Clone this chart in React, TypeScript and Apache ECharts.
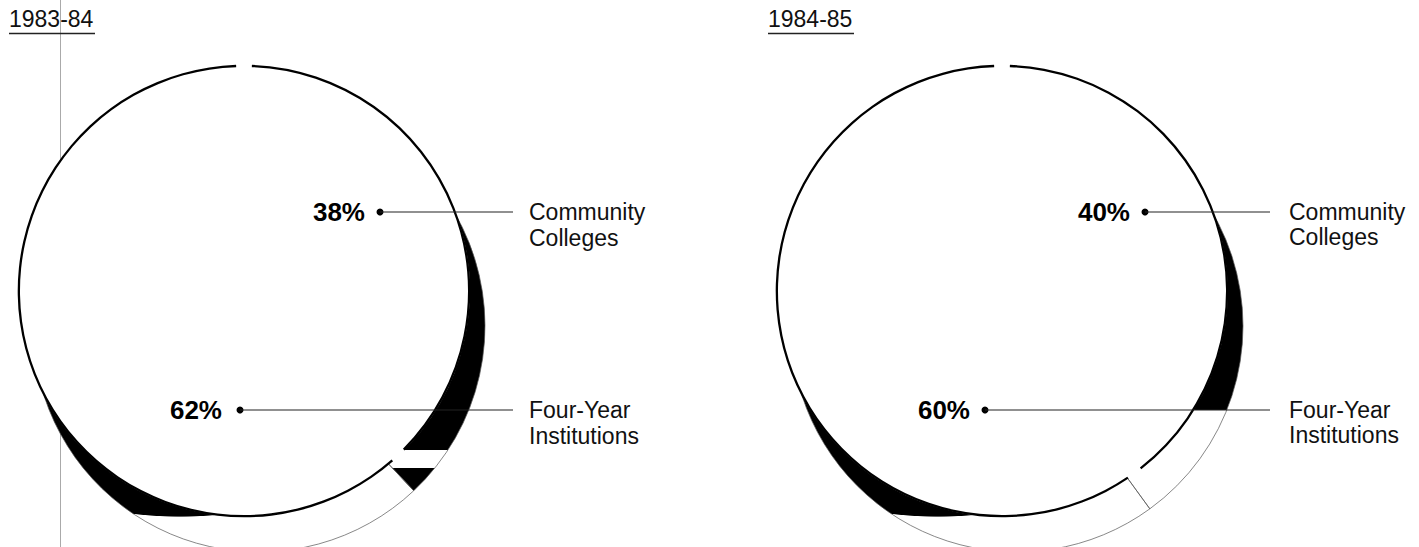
import React, { useEffect, useRef } from "react";
import * as echarts from "echarts";

const years = ["1983-84", "1984-85"];
const categories = ["Community Colleges", "Four-Year Institutions"];
const labelLines = [["Community", "Colleges"], ["Four-Year", "Institutions"]];
const share1983 = [38, 62];
const share1984 = [40, 60];

const W = 1419;
const H = 547;
const CLEAR = "rgba(0,0,0,0)";

function bandGradient(bands: [number, number][]) {
  // black only inside the given pixel y ranges
  const stops: { offset: number; color: string }[] = [];
  let last = 0;
  bands.forEach(([a, b]) => {
    stops.push({ offset: last / H, color: CLEAR });
    stops.push({ offset: a / H, color: CLEAR });
    stops.push({ offset: a / H, color: "#000" });
    stops.push({ offset: b / H, color: "#000" });
    stops.push({ offset: b / H, color: CLEAR });
    last = b;
  });
  stops.push({ offset: 1, color: CLEAR });
  return new echarts.graphic.LinearGradient(0, 0, 0, H, stops, true as any);
}

function cornerGradient(x0: number) {
  // black inside a large disc, so the shading stops at the bottom like the print
  return new echarts.graphic.RadialGradient(
    x0 + 180,
    117,
    400,
    [
      { offset: 0, color: "#000" },
      { offset: 0.998, color: "#000" },
      { offset: 1, color: CLEAR },
    ],
    true as any
  );
}

function pieSeries(cx: number, cy: number, values: number[], fills: any[]) {
  const r = 226;
  const common = {
    type: "pie" as const,
    startAngle: 90,
    clockwise: true,
    silent: true,
    label: { show: false },
    labelLine: { show: false },
    emphasis: { disabled: true },
  };
  return [
    {
      ...common,
      center: [cx + 15, cy + 35],
      radius: r,
      data: values.map((v, i) => ({
        name: categories[i],
        value: v,
        itemStyle: { color: fills[i], borderColor: "#555", borderWidth: 0.7 },
      })),
    },
    {
      ...common,
      center: [cx, cy],
      radius: r - 1,
      itemStyle: { color: "#fff", borderColor: "#fff", borderWidth: 1.5 },
      data: values.map((v, i) => ({ name: categories[i], value: v })),
    },
    {
      ...common,
      center: [cx, cy],
      radius: [r - 2, r + 0.3],
      padAngle: 4,
      itemStyle: { color: "#000", borderWidth: 0 },
      data: values.map((v, i) => ({ name: categories[i], value: v })),
    },
  ];
}

function labelGraphics(
  title: string,
  titleX: number,
  values: number[],
  pctRight: number[],
  dotX: number[],
  lineEnd: number,
  textX: number,
  rows: number[],
  lineGap: number
) {
  const els: any[] = [];
  const font = "Liberation Sans, Arial, Helvetica, sans-serif";
  els.push({
    type: "text",
    x: titleX,
    y: 19,
    style: { text: title, font: `23px ${font}`, fill: "#111", verticalAlign: "middle" },
  });
  els.push({
    type: "line",
    shape: { x1: titleX, y1: 33.5, x2: titleX + 86, y2: 33.5 },
    style: { stroke: "#222", lineWidth: 1.5 },
  });
  values.forEach((v, i) => {
    const y = rows[i];
    els.push({
      type: "text",
      x: pctRight[i],
      y,
      style: {
        text: `${v}%`,
        font: `bold 26px ${font}`,
        fill: "#000",
        align: "right",
        verticalAlign: "middle",
      },
    });
    els.push({
      type: "circle",
      shape: { cx: dotX[i], cy: y, r: 3.5 },
      style: { fill: "#000" },
    });
    els.push({
      type: "line",
      shape: { x1: dotX[i], y1: y, x2: lineEnd, y2: y },
      style: { stroke: "#222", lineWidth: 1.2 },
    });
    labelLines[i].forEach((t, k) => {
      els.push({
        type: "text",
        x: textX,
        y: y + k * lineGap,
        style: { text: t, font: `23px ${font}`, fill: "#111", verticalAlign: "middle" },
      });
    });
  });
  return els;
}

export default function App() {
  const ref = useRef<HTMLDivElement>(null);
  useEffect(() => {
    if (!ref.current) return;
    const chart = echarts.init(ref.current, undefined, { renderer: "svg", width: W, height: H });
    const series = [
      ...pieSeries(244, 291, share1983, [bandGradient([[0, 450], [468, 496]]), cornerGradient(0)]),
      ...pieSeries(1002, 291, share1984, [bandGradient([[0, 410]]), cornerGradient(758)]),
    ];
    const graphic = [
      {
        type: "line",
        shape: { x1: 60.5, y1: 0, x2: 60.5, y2: H },
        style: { stroke: "#aaa", lineWidth: 1 },
        z: 0,
      },
      ...labelGraphics(years[0], 9, share1983, [365, 222], [380, 240], 513, 529, [212, 410], 26),
      ...labelGraphics(years[1], 768, share1984, [1130, 970], [1145, 985], 1270, 1289, [212, 410], 25),
    ];
    chart.setOption({
      animation: false,
      backgroundColor: "#fff",
      series,
      graphic: { elements: graphic.map((g) => ({ z: 100, ...g })) },
    });
    return () => chart.dispose();
  }, []);
  return (
    <div
      ref={ref}
      style={{ position: "fixed", left: 0, top: 0, width: W, height: H, background: "#fff" }}
    />
  );
}
